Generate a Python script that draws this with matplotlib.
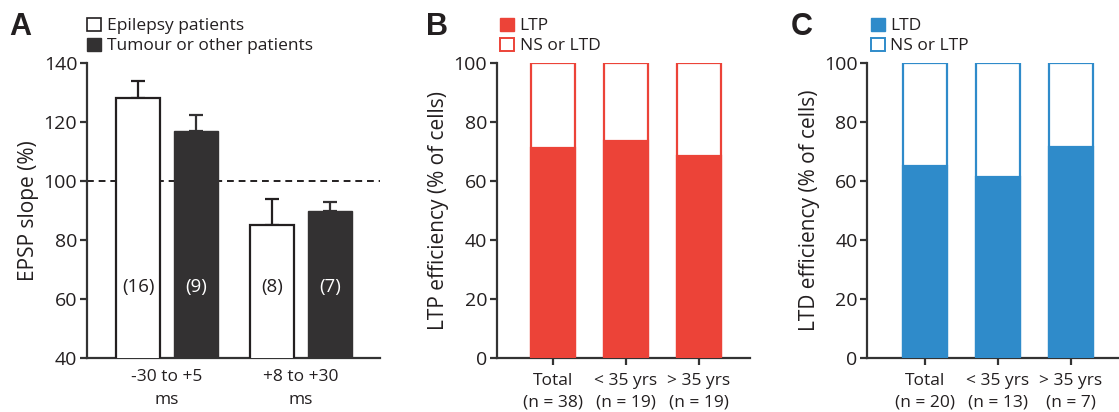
import matplotlib
matplotlib.use("Agg")
import matplotlib.pyplot as plt
from matplotlib.patches import Patch

# panel A: EPSP slope by timing window
a_groups = ["-30 to +5\nms", "+8 to +30\nms"]
a_epilepsy = [128, 85]
a_epilepsy_err = [6, 9]
a_epilepsy_n = ["(16)", "(8)"]
a_tumour = [117, 90]
a_tumour_err = [5.5, 3]
a_tumour_n = ["(9)", "(7)"]

# panel B: LTP efficiency
b_labels = ["Total\n(n = 38)", "< 35 yrs\n(n = 19)", "> 35 yrs\n(n = 19)"]
b_ltp = [71.1, 73.7, 68.4]

# panel C: LTD efficiency
c_labels = ["Total\n(n = 20)", "< 35 yrs\n(n = 13)", "> 35 yrs\n(n = 7)"]
c_ltd = [65.0, 61.5, 71.4]

DARK = "#333132"
AXC = "#333333"
RED = "#EC4338"
BLUE = "#2F8BCA"

plt.rcParams["font.family"] = ["Open Sans", "DejaVu Sans"]
plt.rcParams["font.size"] = 12.5
plt.rcParams["text.color"] = "#231f20"
plt.rcParams["axes.labelcolor"] = "#231f20"
plt.rcParams["axes.labelsize"] = 15
plt.rcParams["ytick.labelsize"] = 14
plt.rcParams["xtick.labelsize"] = 12.5
plt.rcParams["xtick.color"] = AXC
plt.rcParams["ytick.color"] = AXC
plt.rcParams["xtick.labelcolor"] = "#231f20"
plt.rcParams["ytick.labelcolor"] = "#231f20"


def style_axes(ax):
    for side in ["top", "right"]:
        ax.spines[side].set_visible(False)
    for side in ["left", "bottom"]:
        ax.spines[side].set_linewidth(1.6)
        ax.spines[side].set_color(AXC)
    ax.tick_params(width=1.6, length=5, pad=2)


fig = plt.figure(figsize=(11.19, 4.12), dpi=100)
bottom, height = 0.131, 0.716

# ---- panel A ----
axA = fig.add_axes([0.0777, bottom, 0.262, height])
style_axes(axA)
x = range(len(a_groups))
off, w = 0.216, 0.33
xe = [i - off for i in x]
xt = [i + off for i in x]
axA.axhline(100, color="#231f20", lw=1.4, ls=(0, (3.5, 2.5)), zorder=1)
axA.bar(xe, a_epilepsy, w, bottom=0, color="white", edgecolor="#231f20",
        linewidth=1.6, zorder=3)
axA.bar(xt, a_tumour, w, bottom=0, color=DARK, edgecolor=DARK,
        linewidth=1.0, zorder=3)
axA.errorbar(xe, a_epilepsy, yerr=[[0] * 2, a_epilepsy_err], fmt="none",
             ecolor="#231f20", elinewidth=1.6, capsize=5, capthick=1.6, zorder=2)
axA.errorbar(xt, a_tumour, yerr=[[0] * 2, a_tumour_err], fmt="none",
             ecolor=DARK, elinewidth=1.6, capsize=5, capthick=1.6, zorder=2)
for i in x:
    axA.text(xe[i], 64, a_epilepsy_n[i], ha="center", va="center",
             fontsize=13.5, zorder=4)
    axA.text(xt[i], 64, a_tumour_n[i], ha="center", va="center",
             fontsize=13.5, color="white", zorder=4)
axA.set_ylim(40, 140)
axA.set_yticks([40, 60, 80, 100, 120, 140])
axA.set_xlim(-0.597, 1.59)
axA.set_xticks(list(x))
axA.set_xticklabels(a_groups, linespacing=1.6)
axA.tick_params(axis="x", length=0, pad=8)
axA.set_ylabel("EPSP slope (%)", labelpad=3)
axA.legend(handles=[Patch(facecolor="white", edgecolor="#231f20", lw=1.2,
                          label="Epilepsy patients"),
                    Patch(facecolor=DARK, edgecolor=DARK,
                          label="Tumour or other patients")],
           loc="lower left", bbox_to_anchor=(-0.03, 1.0), frameon=False,
           handlelength=0.8, handleheight=0.8, handletextpad=0.35,
           labelspacing=0.2, borderpad=0, fontsize=12.5)

# ---- panels B and C ----
def stacked_panel(rect, labels, vals, color, ylabel, leg_labels, xlim):
    ax = fig.add_axes(rect)
    style_axes(ax)
    xs = list(range(len(labels)))
    ax.bar(xs, [100] * len(xs), 0.6, color="white", edgecolor=color,
           linewidth=1.6, zorder=2)
    ax.bar(xs, vals, 0.6, color=color, edgecolor=color, linewidth=1.6,
           zorder=3)
    ax.set_ylim(0, 100)
    ax.set_yticks([0, 20, 40, 60, 80, 100])
    ax.set_xlim(*xlim)
    ax.set_xticks(xs)
    ax.set_xticklabels(labels, linespacing=1.4)
    ax.tick_params(axis="x", pad=6)
    ax.set_ylabel(ylabel, labelpad=3)
    ax.legend(handles=[Patch(facecolor=color, edgecolor=color,
                             label=leg_labels[0]),
                       Patch(facecolor="white", edgecolor=color, lw=1.4,
                             label=leg_labels[1])],
              loc="lower left", bbox_to_anchor=(-0.02, 1.0), frameon=False,
              handlelength=0.8, handleheight=0.8, handletextpad=0.3,
              labelspacing=0.2, borderpad=0, fontsize=12.5)
    return ax


stacked_panel([0.444, bottom, 0.226, height], b_labels, b_ltp, RED,
              "LTP efficiency (% of cells)", ["LTP", "NS or LTD"],
              (-0.767, 2.70))
stacked_panel([0.775, bottom, 0.225, height], c_labels, c_ltd, BLUE,
              "LTD efficiency (% of cells)", ["LTD", "NS or LTP"],
              (-0.79, 2.66))

# panel letters
for xl, letter in [(0.008, "A"), (0.381, "B"), (0.707, "C")]:
    fig.text(xl, 0.935, letter, fontsize=22, fontweight="bold",
             family=["Liberation Sans", "DejaVu Sans"], va="center")

fig.savefig("out.png", dpi=100)
